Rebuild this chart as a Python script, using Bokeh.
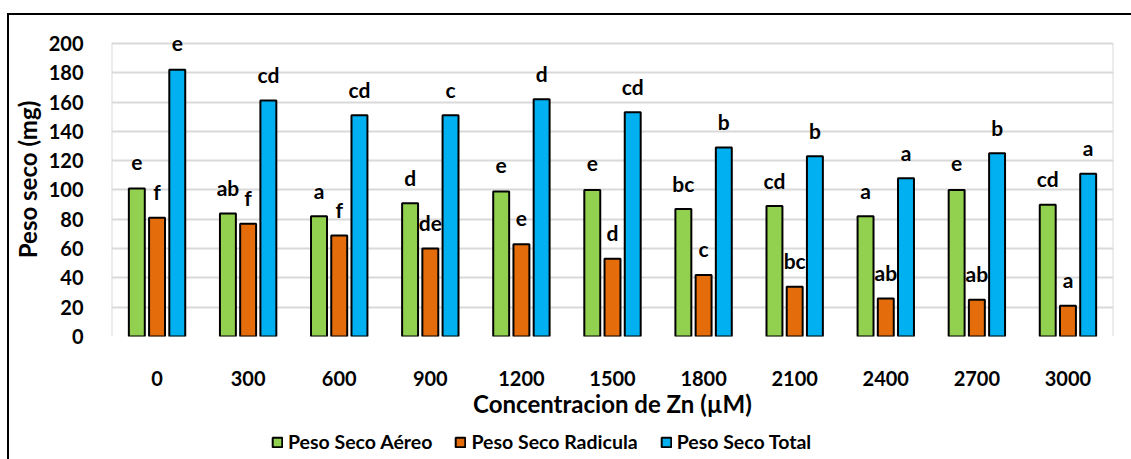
from bokeh.plotting import figure
from bokeh.layouts import column
from bokeh.models import FactorRange, Range1d, ColumnDataSource, Legend, LegendItem, FixedTicker
from bokeh.transform import dodge
from bokeh.core.properties import value
from bokeh.embed import file_html
from bokeh.resources import INLINE

conc = ["0", "300", "600", "900", "1200", "1500", "1800", "2100", "2400", "2700", "3000"]
aereo = [101, 84, 82, 91, 99, 100, 87, 89, 82, 100, 90]
radicula = [81, 77, 69, 60, 63, 53, 42, 34, 26, 25, 21]
total = [182, 161, 151, 151, 162, 153, 129, 123, 108, 125, 111]
let_aereo = ["e", "ab", "a", "d", "e", "e", "bc", "cd", "a", "e", "cd"]
let_radicula = ["f", "f", "f", "de", "e", "d", "c", "bc", "ab", "ab", "a"]
let_total = ["e", "cd", "cd", "c", "d", "cd", "b", "b", "a", "b", "a"]
y_ticks = [0, 20, 40, 60, 80, 100, 120, 140, 160, 180, 200]
series_names = ["Peso Seco Aéreo", "Peso Seco Radicula", "Peso Seco Total"]
colors = ["#92d050", "#e46c0a", "#00b0f0"]

FONT = "Lato"
GRID = "#d9d9d9"

p = figure(x_range=FactorRange(*conc), y_range=Range1d(0, 214.3),
           width=1122, height=410, output_backend="svg", toolbar_location=None,
           min_border_left=98, min_border_right=18, min_border_top=7, min_border_bottom=89)

# plot-area side borders (gray), from 0 to the top tick
p.segment(x0=[(conc[0], -0.5), (conc[-1], 0.5)], x1=[(conc[0], -0.5), (conc[-1], 0.5)],
          y0=[y_ticks[0]] * 2, y1=[y_ticks[-1]] * 2, line_color=GRID, line_width=2)

offsets = [-0.222, 0.0, 0.222]
for vals, lets, off, col in zip([aereo, radicula, total], [let_aereo, let_radicula, let_total],
                                offsets, colors):
    src = ColumnDataSource(dict(x=conc, y=vals, lab=lets))
    p.vbar(x=dodge("x", off, range=p.x_range), top="y", width=0.175, source=src,
           fill_color=col, line_color="black", line_width=2)
    p.text(x=dodge("x", off, range=p.x_range), y="y", text="lab", source=src,
           text_align="center", text_baseline="middle", y_offset=-26,
           text_font=value(FONT), text_font_style="bold", text_font_size="21px", text_color="black")

p.yaxis.ticker = FixedTicker(ticks=y_ticks)
p.ygrid.grid_line_color = GRID
p.ygrid.grid_line_width = 2
p.xgrid.grid_line_color = None
p.outline_line_color = None

for ax in (p.xaxis, p.yaxis):
    ax.axis_line_color = None
    ax.major_tick_line_color = None
    ax.minor_tick_line_color = None
    ax.major_label_text_font = FONT
    ax.major_label_text_font_style = "bold"
    ax.major_label_text_font_size = "20px"
    ax.major_label_text_color = "black"
    ax.axis_label_text_font = FONT
    ax.axis_label_text_font_style = "bold"
    ax.axis_label_text_font_size = "24px"
    ax.axis_label_text_color = "black"

p.yaxis.axis_label = "Peso seco (mg)"
p.yaxis.major_label_standoff = 22
p.yaxis.axis_label_standoff = 4
p.xaxis.axis_label = "Concentracion de Zn (µM)"
p.xaxis.major_label_standoff = 28
p.xaxis.axis_label_standoff = 0

# legend strip
p2 = figure(width=1122, height=34, output_backend="svg", toolbar_location=None,
            x_axis_type=None, y_axis_type=None, min_border=0,
            x_range=Range1d(0, 1), y_range=Range1d(0, 1))
p2.outline_line_color = None
p2.grid.grid_line_color = None
items = []
for col, name in zip(colors, series_names):
    # tiny proxy glyph hidden behind the opaque legend box; only its swatch shows
    r = p2.vbar(x=[0.3], bottom=[0.48], top=[0.52], width=0.001,
                fill_color=col, line_color="black", line_width=2)
    items.append(LegendItem(label=name, renderers=[r]))
legend = Legend(items=items, orientation="horizontal", location=(160, 6),
                border_line_color=None, background_fill_color="white", background_fill_alpha=1,
                glyph_width=12, glyph_height=12, label_standoff=5, spacing=22,
                padding=0, margin=0,
                label_text_font=FONT, label_text_font_style="bold", label_text_font_size="19.5px",
                label_text_color="black")
p2.add_layout(legend, "center")

lay = column(p, p2, spacing=0)
lay.styles = {"margin-left": "7px", "margin-top": "13px",
              "border-left": "2px solid black", "border-top": "2px solid black"}

open("out.html", "w").write(file_html(lay, INLINE))
